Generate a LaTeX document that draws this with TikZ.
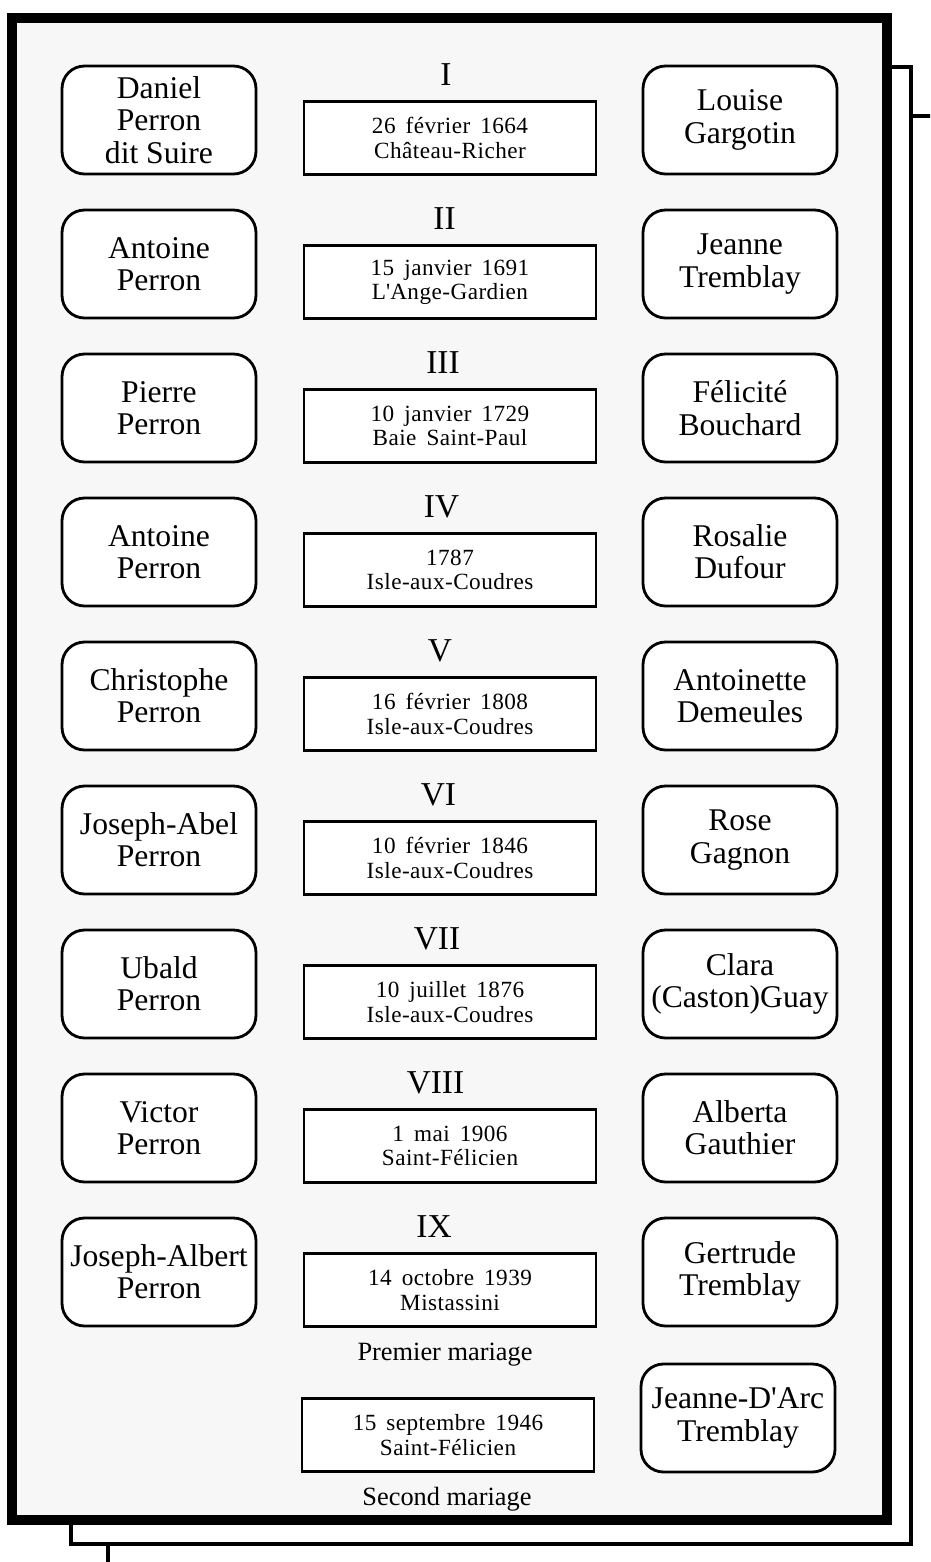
\documentclass[tikz,border=0pt]{standalone}
\usepackage{fontspec}
\setmainfont{Liberation Serif}
\newfontfamily\datefont[LetterSpace=2,WordSpace=1.6]{Liberation Serif}
\usetikzlibrary{positioning}

\begin{document}
\begin{tikzpicture}[x=0.02cm,y=-0.02cm,
	person/.style={draw,line width=1.6pt,rounded corners=0.45cm,fill=white,minimum width=3.88cm,minimum height=2.16cm,align=center,inner sep=1pt,font=\fontsize{18}{18.4}\selectfont},
	datebox/.style={draw,line width=1.4pt,fill=white,minimum width=5.84cm,minimum height=1.46cm,align=center,font=\datefont\fontsize{13.2}{13.8}\selectfont},
	numeral/.style={font=\fontsize{19}{20}\selectfont},
	caption/.style={font=\fontsize{15}{16}\selectfont}]
	\useasboundingbox (0,0) rectangle (930,1562);
	\begin{scope}
	\clip (0,0) rectangle (930,1562);
	% frames, back to front
	\draw[line width=2.8pt,fill=white] (108,116) rectangle (1000,1650);
	\draw[line width=2.8pt,fill=white] (71,67) rectangle (911,1544);
	\draw[line width=5.6pt,fill=gray!6] (12,18) rectangle (887,1520);
	\end{scope}
	
	% couples
	\foreach \i/\num/\hus/\dat/\wif in {
		0/I/{Daniel\\Perron\\dit Suire}/{26 février 1664\\Château-Richer}/{Louise\\Gargotin},
		1/II/{Antoine\\Perron}/{15 janvier 1691\\L\textquotesingle Ange-Gardien}/{Jeanne\\Tremblay},
		2/III/{Pierre\\Perron}/{10 janvier 1729\\Baie Saint-Paul}/{Félicité\\Bouchard},
		3/IV/{Antoine\\Perron}/{1787\\Isle-aux-Coudres}/{Rosalie\\Dufour},
		4/V/{Christophe\\Perron}/{16 février 1808\\Isle-aux-Coudres}/{Antoinette\\Demeules},
		5/VI/{Joseph-Abel\\Perron}/{10 février 1846\\Isle-aux-Coudres}/{Rose\\Gagnon},
		6/VII/{Ubald\\Perron}/{10 juillet 1876\\Isle-aux-Coudres}/{Clara\\(Caston)Guay},
		7/VIII/{Victor\\Perron}/{1 mai 1906\\Saint-Félicien}/{Alberta\\Gauthier},
		8/IX/{Joseph-Albert\\Perron}/{14 octobre 1939\\Mistassini}/{Gertrude\\Tremblay}}
	{
		\pgfmathsetmacro\y{120+144*\i}
		\node[person] (h\i) at (159,\y) {\hus};
		\node[person] (w\i) at (740,\y) {\wif};
		\node[datebox] (d\i) at (450,\y+18) {\dat};
		\node[numeral] (n\i) at (446-1.5*\i,\y-45) {\num};
	}
	
	% second marriage
	\node[caption] (c1) at (445,1355) {Premier mariage};
	\node[person] (w9) at (738,1418) {Jeanne-D\textquotesingle Arc\\Tremblay};
	\node[datebox] (d9) at (448,1435) {15 septembre 1946\\Saint-Félicien};
	\node[caption] (c2) at (447,1499) {Second mariage};
\end{tikzpicture}
\end{document}
